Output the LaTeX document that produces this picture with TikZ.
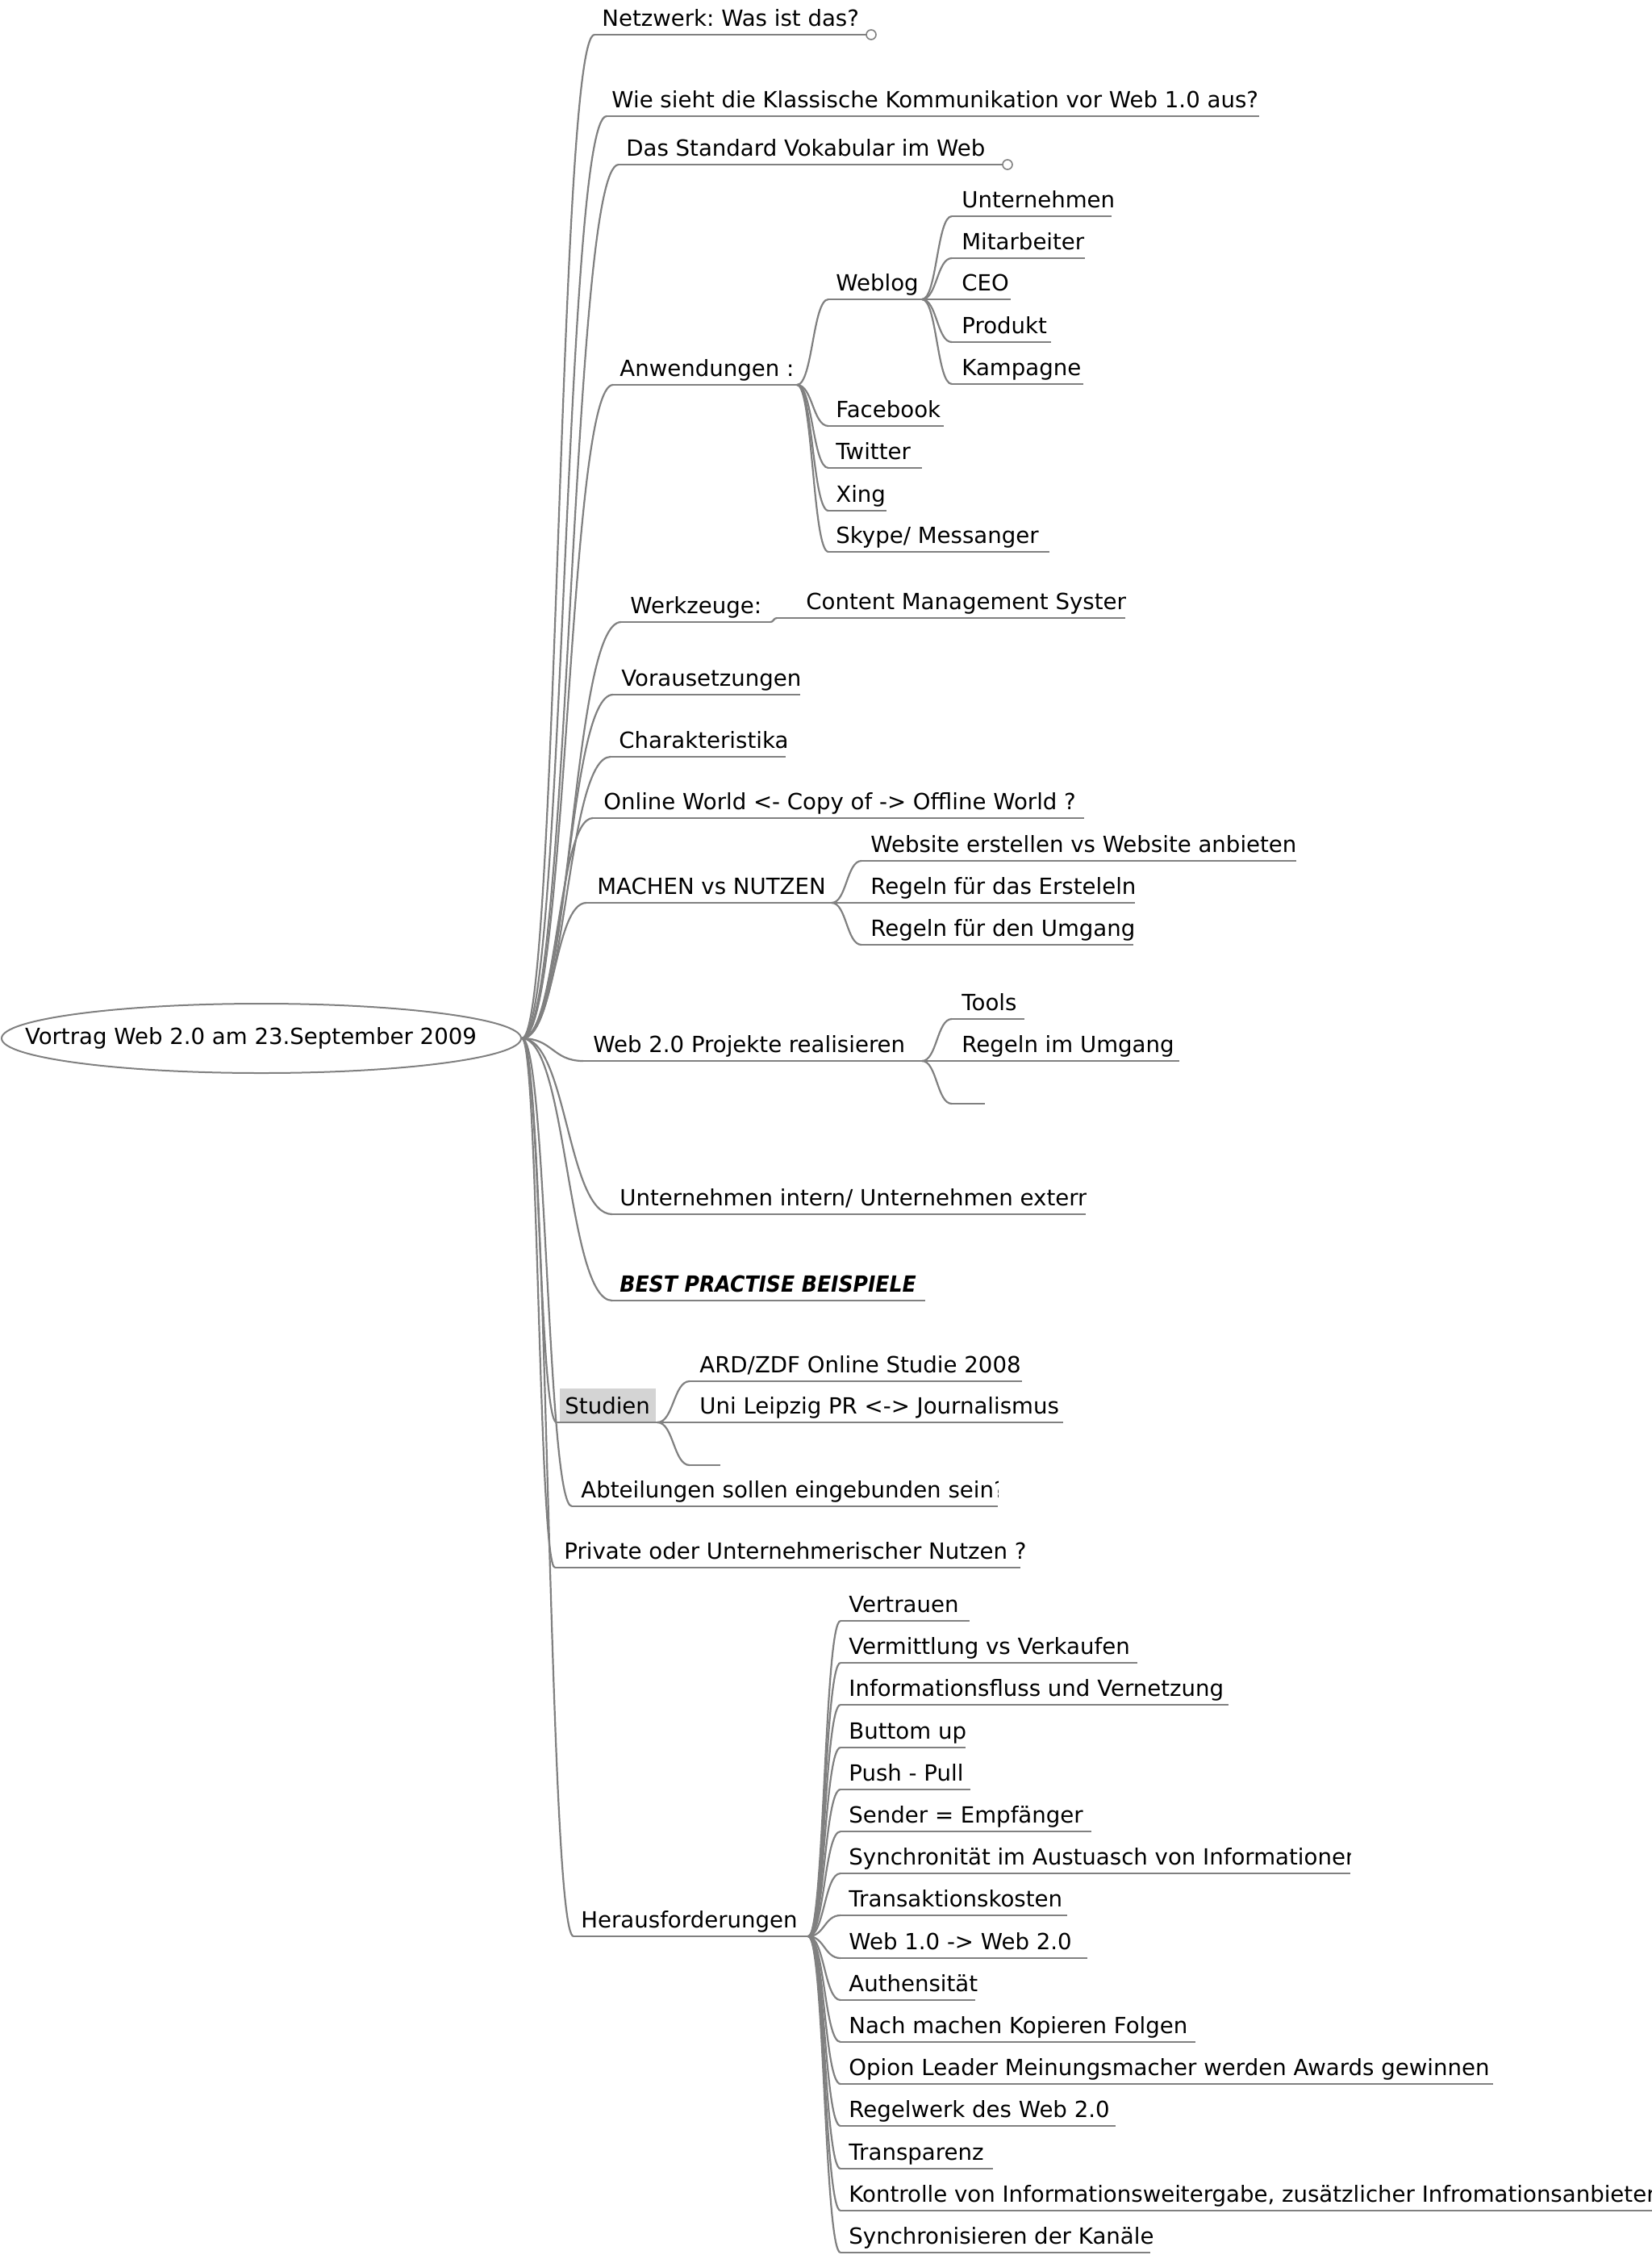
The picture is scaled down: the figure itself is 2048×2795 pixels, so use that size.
\documentclass[tikz,border=0pt]{standalone}
\usepackage{fontspec}
\setmainfont{DejaVu Sans}
\usetikzlibrary{calc,shapes.geometric}
\definecolor{linec}{RGB}{128,128,128}
\definecolor{boxgray}{RGB}{212,212,212}
\tikzset{
  conn/.style={draw=linec, line width=1.1pt},
  uline/.style={draw=linec, line width=1.4pt},
  lbl/.style={anchor=base west, inner sep=0pt, font=\fontsize{13.8pt}{16pt}\selectfont\frenchspacing, text=black},
  endcirc/.style={circle, draw=linec, fill=white, line width=0.8pt, minimum size=6pt, inner sep=0pt},
  rootnode/.style={ellipse, draw=linec, line width=1pt, minimum width=322pt, minimum height=43pt, inner sep=0pt, font=\fontsize{13.8pt}{16pt}\selectfont\frenchspacing}
}
\newcommand\conn[2]{\draw[conn] let \p1=(#1), \p2=(#2) in (\p1) .. controls ({(\x1+\x2)/2},\y1) and ({(\x1+\x2)/2},\y2) .. (\p2);}
\newcommand\topic[6]{%
  \coordinate (#1-s) at (#2,#4);
  \coordinate (#1-e) at (#3,#4);
  \draw[uline] (#1-s) -- (#1-e);
  \node[lbl] (#1) at (#5,#4-11) {#6};}
\newcommand\ctopic[6]{%
  \coordinate (#1-s) at (#2,#4);
  \coordinate (#1-e) at (#3,#4);
  \draw[uline] (#1-s) -- (#1-e);
  \begin{scope}
    \clip (#5-4,#4-50) rectangle (#3,#4-1);
    \node[lbl] (#1) at (#5,#4-11) {#6};
  \end{scope}}
\newcommand\etopic[4]{%
  \coordinate (#1-s) at (#2,#4);
  \coordinate (#1-e) at (#3,#4);
  \draw[uline] (#1-s) -- (#1-e);}
\begin{document}
\begin{tikzpicture}[x=0.5pt,y=-0.5pt]
\useasboundingbox (0,0) rectangle (2048,2795);
\node[rootnode] (root) at (324,1287) {\makebox[0pt]{\hspace*{-13pt}Vortrag Web 2.0 am 23.September 2009}};

% level 1
\topic{netz}{737}{1074}{43}{746}{Netzwerk: Was ist das?}
\node[endcirc] (netz-c) at (1080,43) {};
\topic{wie}{752}{1561}{144}{758}{Wie sieht die Klassische Kommunikation vor Web 1.0 aus?}
\topic{std}{767}{1243}{204}{776}{Das Standard Vokabular im Web}
\node[endcirc] (std-c) at (1249,204) {};
\topic{anw}{760}{988}{477}{768}{Anwendungen :}
\topic{wz}{770}{955}{771}{781}{Werkzeuge:}
\topic{vor}{760}{992}{861}{770}{Vorausetzungen}
\topic{char}{757}{974}{938}{767}{Charakteristika}
\ctopic{onl}{735}{1344}{1014}{748}{Online World <- Copy of -> Offline World ?}
\topic{mach}{727}{1031}{1119}{740}{MACHEN vs NUTZEN}
\topic{proj}{723}{1143}{1315}{735}{Web 2.0 Projekte realisieren}
\ctopic{uint}{759}{1346}{1505}{768}{Unternehmen intern/ Unternehmen extern}
\topic{best}{759}{1147}{1612}{768}{\scalebox{0.91}[1]{\textbf{\textit{BEST PRACTISE BEISPIELE}}}}
\fill[boxgray] (694,1721) rectangle (813,1762);
\topic{stud}{690}{815}{1763}{700}{Studien}
\ctopic{abt}{709}{1237}{1867}{720}{Abteilungen sollen eingebunden sein?}
\topic{priv}{688}{1265}{1943}{699}{Private oder Unternehmerischer Nutzen ?}
\topic{her}{711}{1002}{2400}{720}{Herausforderungen}

% Anwendungen
\topic{wblog}{1027}{1143}{371}{1036}{Weblog}
\topic{fb}{1027}{1170}{528}{1036}{Facebook}
\topic{tw}{1027}{1143}{580}{1036}{Twitter}
\topic{xing}{1027}{1099}{633}{1036}{Xing}
\topic{sky}{1027}{1301}{684}{1036}{Skype/ Messanger}
% Weblog
\topic{unt}{1180}{1378}{268}{1192}{Unternehmen}
\topic{mit}{1180}{1345}{320}{1192}{Mitarbeiter}
\topic{ceo}{1180}{1253}{371}{1192}{CEO}
\topic{prod}{1180}{1303}{424}{1192}{Produkt}
\topic{kamp}{1180}{1343}{476}{1192}{Kampagne}
% Werkzeuge
\ctopic{cms}{963}{1395}{766}{999}{Content Management System}
% MACHEN
\topic{webs}{1068}{1607}{1067}{1079}{Website erstellen vs Website anbieten}
\topic{rerst}{1068}{1407}{1119}{1079}{Regeln für das Ersteleln}
\topic{rumg}{1068}{1405}{1171}{1079}{Regeln für den Umgang}
% Projekte
\topic{tools}{1180}{1270}{1263}{1192}{Tools}
\topic{rimu}{1180}{1462}{1315}{1192}{Regeln im Umgang}
\etopic{pempty}{1180}{1221}{1368}
% Studien
\topic{ard}{855}{1267}{1712}{867}{ARD/ZDF Online Studie 2008}
\topic{uni}{855}{1318}{1763}{867}{Uni Leipzig PR <-> Journalismus}
\etopic{sempty}{855}{893}{1816}
% Herausforderungen
\topic{h1}{1042}{1202}{2009}{1052}{Vertrauen}
\topic{h2}{1042}{1410}{2061}{1052}{Vermittlung vs Verkaufen}
\topic{h3}{1042}{1523}{2113}{1052}{Informationsfluss und Vernetzung}
\topic{h4}{1042}{1197}{2166}{1052}{Buttom up}
\topic{h5}{1042}{1203}{2218}{1052}{Push - Pull}
\topic{h6}{1042}{1353}{2270}{1052}{Sender = Empfänger}
\ctopic{h7}{1042}{1674}{2322}{1052}{Synchronität im Austuasch von Informationen}
\topic{h8}{1042}{1323}{2374}{1052}{Transaktionskosten}
\topic{h9}{1042}{1348}{2427}{1052}{Web 1.0 -> Web 2.0}
\topic{h10}{1042}{1209}{2479}{1052}{Authensität}
\topic{h11}{1042}{1482}{2531}{1052}{Nach machen Kopieren Folgen}
\topic{h12}{1042}{1851}{2583}{1052}{Opion Leader Meinungsmacher werden Awards gewinnen}
\topic{h13}{1042}{1383}{2635}{1052}{Regelwerk des Web 2.0}
\topic{h14}{1042}{1231}{2688}{1052}{Transparenz}
\ctopic{h15}{1042}{2048}{2740}{1052}{Kontrolle von Informationsweitergabe, zusätzlicher Infromationsanbieter}
\topic{h16}{1042}{1426}{2792}{1052}{Synchronisieren der Kanäle}

% connectors
\foreach \c in {netz,wie,std,anw,wz,vor,char,onl,mach,proj,uint,best,stud,abt,priv,her}
  {\conn{root.east}{\c-s}}
\foreach \c in {wblog,fb,tw,xing,sky} {\conn{anw-e}{\c-s}}
\foreach \c in {unt,mit,ceo,prod,kamp} {\conn{wblog-e}{\c-s}}
\conn{wz-e}{cms-s}
\foreach \c in {webs,rerst,rumg} {\conn{mach-e}{\c-s}}
\foreach \c in {tools,rimu,pempty} {\conn{proj-e}{\c-s}}
\foreach \c in {ard,uni,sempty} {\conn{stud-e}{\c-s}}
\foreach \c in {h1,h2,h3,h4,h5,h6,h7,h8,h9,h10,h11,h12,h13,h14,h15,h16} {\conn{her-e}{\c-s}}
\end{tikzpicture}
\end{document}
